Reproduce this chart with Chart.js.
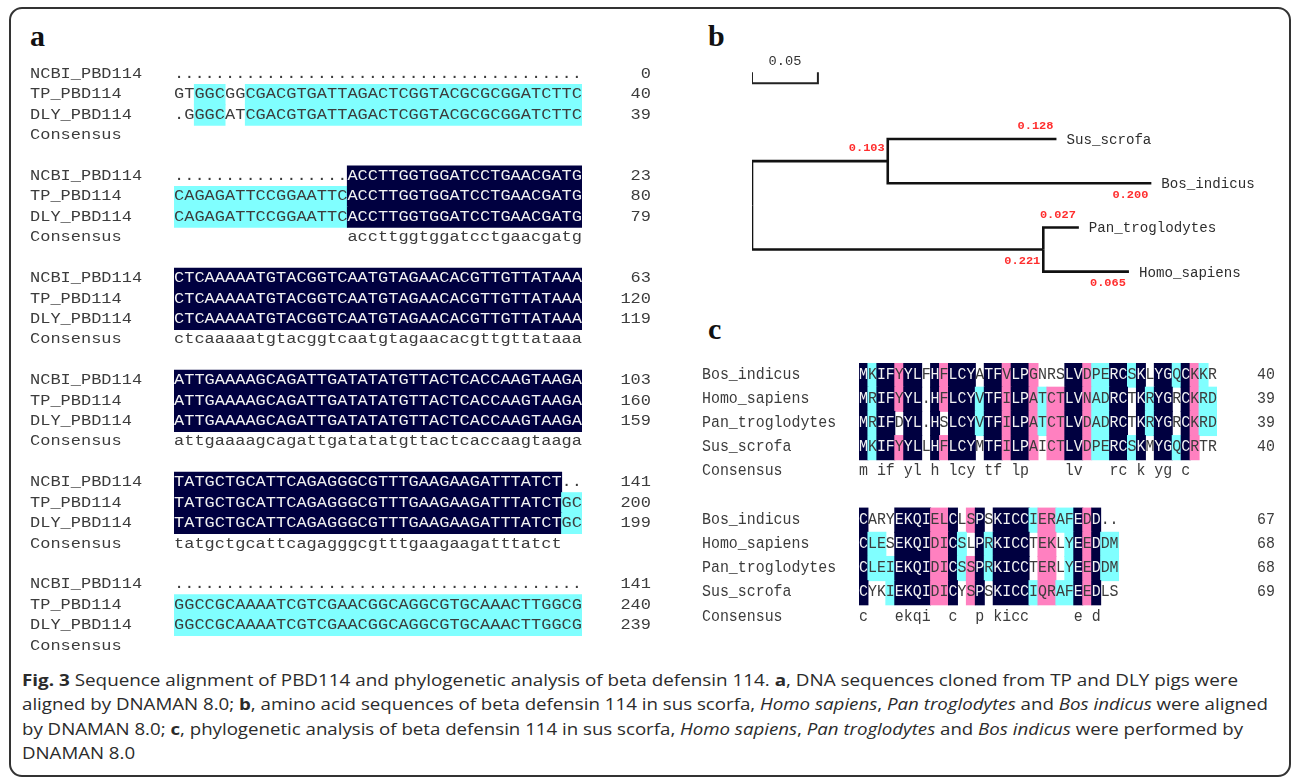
<!DOCTYPE html>
<html>
<head>
<meta charset="utf-8">
<script src="https://cdn.jsdelivr.net/npm/chart.js@4.4.1/dist/chart.umd.min.js"></script>
<style>
html, body { margin: 0; padding: 0; background: #fff; }
body { width: 1295px; height: 778px; position: relative; overflow: hidden; font-family: 'Open Sans', sans-serif; }
#frame { position: absolute; left: 9px; top: 7px; width: 1278px; height: 766px; border: 2px solid #333; border-radius: 13px; }
.lab { position: absolute; font-family: 'Liberation Serif', serif; font-weight: bold; font-size: 30px; line-height: 30px; color: #111; }
canvas { position: absolute; }
#cap { position: absolute; left: 22px; top: 668px; color: #2b2b2b; font-size: 16px; }
#cap div { white-space: nowrap; width: max-content; height: 24.3px; line-height: 24.3px; transform-origin: 0 50%; }
</style>
</head>
<body>
<div id="frame"></div>
<div class="lab" style="left:30px;top:21px">a</div>
<div class="lab" style="left:708px;top:21px">b</div>
<div class="lab" style="left:708px;top:314px">c</div>

<canvas id="chartA" width="645" height="592" style="left:20px;top:64px"></canvas>
<canvas id="chartB" width="590" height="280" style="left:700px;top:20px"></canvas>
<canvas id="chartC" width="595" height="266" style="left:690px;top:363px"></canvas>

<div id="cap">
<div><b>Fig. 3</b> Sequence alignment of PBD114 and phylogenetic analysis of beta defensin 114. <b>a</b>, DNA sequences cloned from TP and DLY pigs were</div>
<div>aligned by DNAMAN 8.0; <b>b</b>, amino acid sequences of beta defensin 114 in sus scorfa, <i>Homo sapiens</i>, <i>Pan troglodytes</i> and <i>Bos indicus</i> were aligned</div>
<div>by DNAMAN 8.0; <b>c</b>, phylogenetic analysis of beta defensin 114 in sus scorfa, <i>Homo sapiens</i>, <i>Pan troglodytes</i> and <i>Bos indicus</i> were performed by</div>
<div>DNAMAN 8.0</div>
</div>

<script>
// =========================
// DATA - panel a (DNA alignment, written in groups of ten)
// =========================

const dnaNames = ['NCBI_PBD114', 'TP_PBD114', 'DLY_PBD114'];

const dnaNCBI = [
    '.......... .......... .......... ..........',
    '.......... .......ACC TTGGTGGATC CTGAACGATG',
    'CTCAAAAATG TACGGTCAAT GTAGAACACG TTGTTATAAA',
    'ATTGAAAAGC AGATTGATAT ATGTTACTCA CCAAGTAAGA',
    'TATGCTGCAT TCAGAGGGCG TTTGAAGAAG ATTTATCT..',
    '.......... .......... .......... ..........'
];
const dnaTP = [
    'GTGGCGGCGA CGTGATTAGA CTCGGTACGC GCGGATCTTC',
    'CAGAGATTCC GGAATTCACC TTGGTGGATC CTGAACGATG',
    'CTCAAAAATG TACGGTCAAT GTAGAACACG TTGTTATAAA',
    'ATTGAAAAGC AGATTGATAT ATGTTACTCA CCAAGTAAGA',
    'TATGCTGCAT TCAGAGGGCG TTTGAAGAAG ATTTATCTGC',
    'GGCCGCAAAA TCGTCGAACG GCAGGCGTGC AAACTTGGCG'
];
const dnaDLY = [
    '.GGGCATCGA CGTGATTAGA CTCGGTACGC GCGGATCTTC',
    'CAGAGATTCC GGAATTCACC TTGGTGGATC CTGAACGATG',
    'CTCAAAAATG TACGGTCAAT GTAGAACACG TTGTTATAAA',
    'ATTGAAAAGC AGATTGATAT ATGTTACTCA CCAAGTAAGA',
    'TATGCTGCAT TCAGAGGGCG TTTGAAGAAG ATTTATCTGC',
    'GGCCGCAAAA TCGTCGAACG GCAGGCGTGC AAACTTGGCG'
];
const dnaConsensus = [
    '',
    '                 accttggtggatcctgaacgatg',
    'ctcaaaaatgtacggtcaatgtagaacacgttgttataaa',
    'attgaaaagcagattgatatatgttactcaccaagtaaga',
    'tatgctgcattcagagggcgtttgaagaagatttatct',
    ''
];
const endNCBI = [0, 23, 63, 103, 141, 141];
const endTP = [40, 80, 120, 160, 200, 240];
const endDLY = [39, 79, 119, 159, 199, 239];

// homology level of each residue: N = 100%, C = cyan level, . = none
const shadeNCBI = [
    '.......... .......... .......... ..........',
    '.......... .......NNN NNNNNNNNNN NNNNNNNNNN',
    'NNNNNNNNNN NNNNNNNNNN NNNNNNNNNN NNNNNNNNNN',
    'NNNNNNNNNN NNNNNNNNNN NNNNNNNNNN NNNNNNNNNN',
    'NNNNNNNNNN NNNNNNNNNN NNNNNNNNNN NNNNNNNN..',
    '.......... .......... .......... ..........'
];
const shadeTP = [
    '..CCC..CCC CCCCCCCCCC CCCCCCCCCC CCCCCCCCCC',
    'CCCCCCCCCC CCCCCCCNNN NNNNNNNNNN NNNNNNNNNN',
    'NNNNNNNNNN NNNNNNNNNN NNNNNNNNNN NNNNNNNNNN',
    'NNNNNNNNNN NNNNNNNNNN NNNNNNNNNN NNNNNNNNNN',
    'NNNNNNNNNN NNNNNNNNNN NNNNNNNNNN NNNNNNNNCC',
    'CCCCCCCCCC CCCCCCCCCC CCCCCCCCCC CCCCCCCCCC'
];
const shadeDLY = shadeTP.slice();

// =========================
// DATA - panel c (protein alignment)
// =========================

const protNames = ['Bos_indicus', 'Homo_sapiens', 'Pan_troglodytes', 'Sus_scrofa'];

const protBos = ['MKIFYYLFHF LCYATFVLPG NRSLVDPERC SKLYGQCKKR', 'CARYEKQIEL CLSPSKICCI ERAFEDD..'];
const protHomo = ['MRIFYYL.HF LCYVTFILPA TCTLVNADRC TKRYGRCKRD', 'CLESEKQIDI CSLPRKICCT EKLYEEDDM'];
const protPan = ['MRIFDYL.HS LCYVTFILPA TCTLVDADRC TKRYGRCKRD', 'CLEIEKQIDI CSSPRKICCT ERLYEEDDM'];
const protSus = ['MKIFYYLLHF LCYMTFILPA ICTLVDPERC SKMYGQCRTR', 'CYKIEKQIDI CYSPSKICCI QRAFEEDLS'];
const protConsensus = ['m if yl h lcy tf lp    lv   rc k yg c', 'c   ekqi  c  p kicc     e d'];

const endBos = [40, 67];
const endHomo = [39, 68];
const endPan = [39, 68];
const endSus = [40, 69];

// N = 100%, P = pink level, C = cyan level, . = none
const shadeBos = ['NCNNPNN.NP NNN.NNPNNP ...NNPCCNN CN.NNCNPC.', 'N...NNNNPP N.PN.NNNNC PPCCNPN..'];
const shadeHomo = ['NCNNPNN.NP NNNCNNPNNP CPPNNPCCNN .NCNN.NPCC', 'NCC.NNNNPP NC.NCNNNN. PP.CNPNCC'];
const shadePan = ['NCNN.NN.N. NNNCNNPNNP CPPNNPCCNN .NCNN.NPCC', 'NCCCNNNNPP NCPNCNNNN. PP.CNPNCC'];
const shadeSus = ['NCNNPNN.NP NNN.NNPNNP .PPNNPCCNN CN.NNCNP..', 'N..CNNNNPP N.PN.NNNNC PPCCNPN..'];

// =========================
// DATA - panel b (tree)
// =========================

const treeLabels = ['', '', 'Sus_scrofa', 'Bos_indicus', '', 'Pan_troglodytes', 'Homo_sapiens'];
const treeParent = [-1, 0, 1, 1, 0, 4, 4];
const treeBranch = [0, 0.103, 0.128, 0.200, 0.221, 0.027, 0.065];
const scaleBarLength = 0.05;

// =========================
// COLOURS / TEXT HELPERS
// =========================

const shadeColor = { N: '#000040', P: '#ff80c0', C: '#80ffff' };

const g = s => s.replace(/ /g, '');

const probe = document.createElement('canvas').getContext('2d');
probe.font = '100px "Liberation Mono"';
const monoCap = probe.measureText('H').actualBoundingBoxAscent / 100;
const monoAdv = probe.measureText('M').width / 100;

// courier-like text with a given cap height and advance
function monoText(ctx, str, x, y, align, cap, adv, color, weight) {
    const fs = cap / monoCap;
    const sx = adv / (monoAdv * fs);
    ctx.save();
    ctx.font = (weight || '') + ' ' + fs + 'px "Liberation Mono"';
    ctx.fillStyle = color;
    ctx.textAlign = align;
    ctx.textBaseline = 'alphabetic';
    ctx.translate(x, y + cap / 2);
    ctx.scale(sx, 1);
    ctx.fillText(str, 0, 0);
    ctx.restore();
}

// =========================
// ROWS
// =========================

const rowsA = [];
for (let b = 0; b < 6; b++) {
    const seqs = [dnaNCBI, dnaTP, dnaDLY];
    const shades = [shadeNCBI, shadeTP, shadeDLY];
    const ends = [endNCBI, endTP, endDLY];
    for (let s = 0; s < 3; s++) {
        rowsA.push({ r: b * 5 + s, name: dnaNames[s], seq: g(seqs[s][b]), shade: g(shades[s][b]), end: ends[s][b] });
    }
    rowsA.push({ r: b * 5 + 3, name: 'Consensus', seq: dnaConsensus[b], shade: '', end: null });
}

const rowsC = [];
for (let b = 0; b < 2; b++) {
    const seqs = [protBos, protHomo, protPan, protSus];
    const shades = [shadeBos, shadeHomo, shadePan, shadeSus];
    const ends = [endBos, endHomo, endPan, endSus];
    for (let s = 0; s < 4; s++) {
        rowsC.push({ r: b * 6 + s, name: protNames[s], seq: g(seqs[s][b]), shade: g(shades[s][b]), end: ends[s][b] });
    }
    rowsC.push({ r: b * 6 + 4, name: 'Consensus', seq: protConsensus[b], shade: '', end: null });
}

function shadeRuns(rows) {
    const out = [];
    rows.forEach(row => {
        let i = 0;
        while (i < row.shade.length) {
            const k = row.shade[i];
            let j = i;
            while (j < row.shade.length && row.shade[j] === k) j++;
            if (k !== '.') out.push({ x: [i, j], y: row.r, k });
            i = j;
        }
    });
    return out;
}

function alignText(rows, st) {
    return {
        id: 'alignText',
        afterDatasetsDraw(chart) {
            const { ctx, chartArea, scales: { x, y } } = chart;
            rows.forEach(row => {
                const py = y.getPixelForValue(row.r) + st.dy;
                monoText(ctx, row.name, chartArea.left - st.nameGap, py, 'left', st.cap, st.adv, st.ink);
                for (let i = 0; i < row.seq.length; i++) {
                    const ch = row.seq[i];
                    if (ch === ' ') continue;
                    const dark = row.shade[i] === 'N';
                    monoText(ctx, ch, x.getPixelForValue(i + 0.5), py, 'center', st.cap, st.adv, dark ? '#f2f2f2' : st.ink);
                }
                if (row.end !== null) {
                    monoText(ctx, String(row.end), chartArea.right + st.numGap, py, 'right', st.cap, st.adv, st.ink);
                }
            });
        }
    };
}

function alignChart(id, rows, nRows, pad, st) {
    const ticks = Array.from({ length: nRows }, (_, i) => i);
    return new Chart(document.getElementById(id), {
        type: 'bar',
        data: {
            datasets: [{
                data: shadeRuns(rows),
                backgroundColor: c => c.raw ? shadeColor[c.raw.k] : 'transparent',
                borderWidth: 0,
                barPercentage: 1,
                categoryPercentage: 1,
                inflateAmount: 0.5
            }]
        },
        options: {
            indexAxis: 'y',
            responsive: false,
            animation: false,
            events: [],
            layout: { padding: pad },
            scales: {
                x: { type: 'linear', min: 0, max: 40, display: false },
                y: {
                    type: 'linear', min: -0.5, max: nRows - 0.5, reverse: true, offset: false, display: false,
                    afterBuildTicks: s => { s.ticks = ticks.map(v => ({ value: v })); }
                }
            },
            plugins: { legend: { display: false }, tooltip: { enabled: false } }
        },
        plugins: [alignText(rows, st)]
    });
}

// =========================
// PANEL a
// =========================

alignChart('chartA', rowsA, 29,
    { left: 154, right: 83, top: 0, bottom: 0 },
    { cap: 9.6, adv: 10.2, ink: '#3c3c3c', nameGap: 144, numGap: 69, dy: -1 });

// =========================
// PANEL c
// =========================

alignChart('chartC', rowsC, 11,
    { left: 169, right: 68, top: 0, bottom: 0 },
    { cap: 11.3, adv: 8.95, ink: '#3c3c3c', nameGap: 157, numGap: 58, dy: -2 });

// =========================
// PANEL b - tree
// =========================

const nodeX = treeBranch.map(() => 0);
const nodeY = treeBranch.map(() => 0);
treeParent.forEach((p, i) => { if (p >= 0) nodeX[i] = nodeX[p] + treeBranch[i]; });

let leaf = 0;
treeLabels.forEach((lab, i) => { if (lab) nodeY[i] = leaf++; });
for (let i = treeParent.length - 1; i >= 0; i--) {
    const kids = treeParent.map((p, k) => p === i ? k : -1).filter(k => k >= 0);
    if (kids.length) nodeY[i] = kids.reduce((a, k) => a + nodeY[k], 0) / kids.length;
}

const barTopY = -1.51;
const barY = -1.26;
const barLabelY = -1.78;

const branchSets = [];
treeParent.forEach((p, i) => {
    if (p < 0) return;
    branchSets.push({
        data: [
            { x: nodeX[p], y: nodeY[p] },
            { x: nodeX[p], y: nodeY[i] },
            { x: nodeX[i], y: nodeY[i] }
        ],
        showLine: true, borderColor: '#111', borderWidth: 2.6, pointRadius: 0,
        borderJoinStyle: 'miter', borderCapStyle: 'butt', tension: 0
    });
});
branchSets.push({
    data: [
        { x: 0, y: barTopY }, { x: 0, y: barY },
        { x: scaleBarLength, y: barY }, { x: scaleBarLength, y: barTopY }
    ],
    showLine: true, borderColor: '#222', borderWidth: 2, pointRadius: 0,
    borderJoinStyle: 'miter', tension: 0
});

const treeText = {
    id: 'treeText',
    afterDatasetsDraw(chart) {
        const { ctx, scales: { x, y } } = chart;
        treeParent.forEach((p, i) => {
            if (p < 0) return;
            const px = x.getPixelForValue(nodeX[i]);
            const py = y.getPixelForValue(nodeY[i]);
            const upper = treeParent.indexOf(p) === i;
            monoText(ctx, treeBranch[i].toFixed(3), px - 3, upper ? py - 13.5 : py + 11, 'right', 7.4, 7.2, '#ff2e2e', 'bold');
            if (treeLabels[i]) monoText(ctx, treeLabels[i], px + 10, py, 'left', 9.8, 8.5, '#2e2e2e');
        });
        monoText(ctx, scaleBarLength.toFixed(2), x.getPixelForValue(scaleBarLength / 2),
            y.getPixelForValue(barLabelY), 'center', 9, 8.2, '#333');
    }
};

new Chart(document.getElementById('chartB'), {
    type: 'scatter',
    data: { datasets: branchSets },
    options: {
        responsive: false,
        animation: false,
        events: [],
        layout: { padding: { left: 52, right: 10.8, top: 8.4, bottom: 1.8 } },
        scales: {
            x: { type: 'linear', min: 0, max: 0.4, display: false },
            y: { type: 'linear', min: -2.5, max: 3.6, reverse: true, display: false }
        },
        plugins: { legend: { display: false }, tooltip: { enabled: false } }
    },
    plugins: [treeText]
});

// =========================
// CAPTION line widths
// =========================

const capTargets = [1216, 1246, 1221];
let lastScale = 1;
document.querySelectorAll('#cap div').forEach((el, i) => {
    const w = el.getBoundingClientRect().width;
    const s = capTargets[i] ? capTargets[i] / w : lastScale;
    el.style.transform = 'scaleX(' + s.toFixed(4) + ')';
    lastScale = s;
});
</script>
</body>
</html>
